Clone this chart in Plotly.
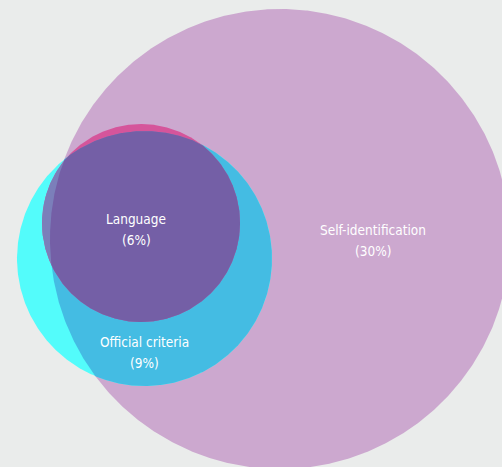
import numpy as np
import plotly.graph_objects as go

# Data: share of population identified by each criterion
sets = ["Self-identification", "Official criteria", "Language"]
shares = [30, 9, 6]

# Layout: circle centres/radii in pixel space, label anchor points
centres_x = [280, 144.5, 141]
centres_y = [239, 258.5, 223]
radii = [230, 127.5, 99]
label_x = [373, 144, 136]
label_y = [230, 342, 219]

BG = "#eaeceb"
W, H = 502, 467


def circle_pts(i, n=900):
    t = np.linspace(0, 2 * np.pi, n, endpoint=False)
    return centres_x[i] + radii[i] * np.cos(t), centres_y[i] + radii[i] * np.sin(t)


def intersection(idx):
    """Convex polygon for the intersection of the given circles."""
    xs, ys = [], []
    for i in idx:
        px, py = circle_pts(i)
        keep = np.ones_like(px, dtype=bool)
        for j in idx:
            if j == i:
                continue
            d = np.hypot(px - centres_x[j], py - centres_y[j])
            keep &= d <= radii[j] + 0.01
        xs.append(px[keep])
        ys.append(py[keep])
    xs = np.concatenate(xs)
    ys = np.concatenate(ys)
    cx, cy = xs.mean(), ys.mean()
    order = np.argsort(np.arctan2(ys - cy, xs - cx))
    return np.append(xs[order], xs[order][0]), np.append(ys[order], ys[order][0])


# painting order: region index tuple -> fill colour
regions = [
    ((0,), "#cca8cf"),        # self-identification
    ((1,), "#53fcfb"),        # official criteria only
    ((0, 1), "#44bce3"),      # official + self
    ((2,), "#d5559b"),        # language + self
    ((1, 2), "#7b7fba"),      # language + official
    ((0, 1, 2), "#745fa6"),   # all three
]

fig = go.Figure()
for idx, colour in regions:
    x, y = intersection(idx)
    fig.add_trace(go.Scatter(
        x=x, y=y, mode="lines", fill="toself", fillcolor=colour,
        line=dict(width=0), hoverinfo="skip", showlegend=False,
    ))

font = dict(family="DejaVu Sans Condensed", size=13.5, color="white")
for name, share, lx, ly in zip(sets, shares, label_x, label_y):
    fig.add_annotation(x=lx, y=ly, text=name, showarrow=False, font=font,
                       xanchor="center", yanchor="middle")
    fig.add_annotation(x=lx, y=ly + 21, text=f"({share}%)", showarrow=False,
                       font=font, xanchor="center", yanchor="middle")

fig.update_layout(
    width=W, height=H,
    margin=dict(l=0, r=0, t=0, b=0),
    paper_bgcolor=BG, plot_bgcolor=BG,
    xaxis=dict(range=[0, W], visible=False, fixedrange=True),
    yaxis=dict(range=[H, 0], visible=False, fixedrange=True),
)

# drop the default page margin so the chart fills the window
fig.write_html("out.html", config={"displayModeBar": False},
               post_script="document.body.style.margin='0';")
